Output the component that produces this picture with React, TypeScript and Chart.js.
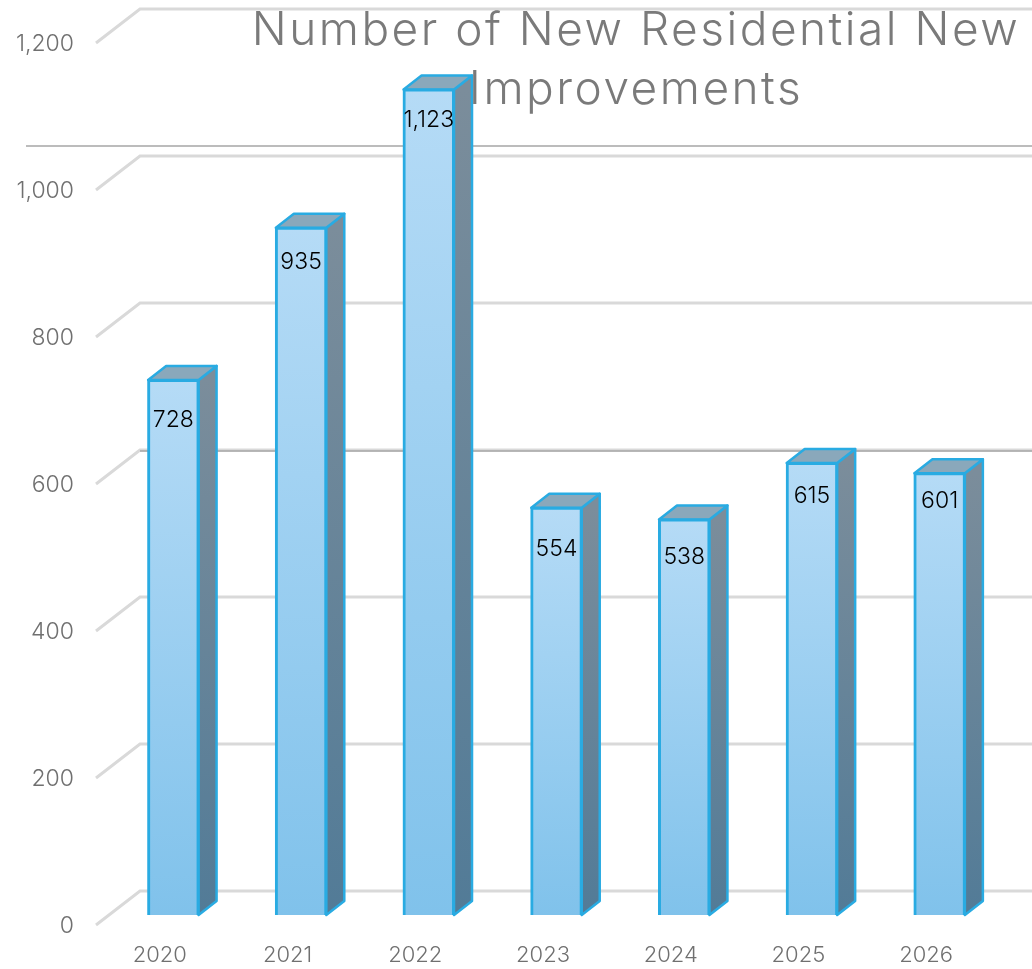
import React, { useEffect, useRef } from "react";
import { Chart, registerables } from "chart.js";

Chart.register(...registerables);

const years = ["2020", "2021", "2022", "2023", "2024", "2025", "2026"];
const newImprovements = [728, 935, 1123, 554, 538, 615, 601];
const titleLines = ["Number of New Residential New", "Improvements"];
const referenceLines = [1060, 645];
const labelDrop = [40, 34, 30, 41, 38, 33, 28];

const FONT = "Inter, Lato, sans-serif";
const DX = 13.5;
const DY = -10;
const DEPTH_X = 18;
const DEPTH_Y = -14;

const threeD = {
  id: "threeD",
  beforeDraw(chart: any) {
    const { ctx, scales, width } = chart;
    const y = scales.y;
    ctx.save();
    ctx.strokeStyle = "#D9D9D9";
    ctx.lineWidth = 3;
    y.ticks.forEach((t: any) => {
      const py = y.getPixelForValue(t.value);
      ctx.beginPath();
      ctx.moveTo(chart.chartArea.left, py);
      ctx.lineTo(chart.chartArea.left + 44, py - 34);
      ctx.lineTo(width, py - 34);
      ctx.stroke();
    });
    ctx.strokeStyle = "#A6A6A6";
    ctx.lineWidth = 1.5;
    referenceLines.forEach((v, i) => {
      const py = y.getPixelForValue(v);
      ctx.beginPath();
      ctx.moveTo(i === 0 ? 26 : chart.chartArea.left + 44, py);
      ctx.lineTo(width, py);
      ctx.stroke();
    });
    ctx.restore();
  },
  beforeLayout(chart: any) {
    const tb = chart.titleBlock;
    if (tb && !tb.__wrapped) {
      tb.__wrapped = true;
      tb._layers = () => [
        {
          z: 1,
          draw() {
            const c = chart.ctx;
            c.save();
            c.letterSpacing = "2.5px";
            tb.draw();
            c.restore();
          },
        },
      ];
    }
  },
  afterLayout(chart: any) {
    const tb = chart.titleBlock;
    tb.left = 0;
    tb.right = 1272;
    tb.top = 2;
  },
  beforeDatasetDraw(chart: any, args: any) {
    const { ctx } = chart;
    const meta = chart.getDatasetMeta(args.index);
    ctx.save();
    ctx.translate(DX, DY);
    meta.data.forEach((el: any) => {
      const p = el.getProps(["x", "y", "base", "width"], true);
      const l = p.x - p.width / 2;
      const r = p.x + p.width / 2;
      const side = ctx.createLinearGradient(0, p.y, 0, p.base);
      side.addColorStop(0, "#7B8D9B");
      side.addColorStop(1, "#527B97");
      ctx.lineWidth = 2.5;
      ctx.strokeStyle = "#29ABE2";
      ctx.lineJoin = "round";
      ctx.fillStyle = side;
      ctx.beginPath();
      ctx.moveTo(r, p.y);
      ctx.lineTo(r + DEPTH_X, p.y + DEPTH_Y);
      ctx.lineTo(r + DEPTH_X, p.base + DEPTH_Y);
      ctx.lineTo(r, p.base);
      ctx.closePath();
      ctx.fill();
      ctx.stroke();
      ctx.fillStyle = "#8AA8BB";
      ctx.beginPath();
      ctx.moveTo(l, p.y);
      ctx.lineTo(l + DEPTH_X, p.y + DEPTH_Y);
      ctx.lineTo(r + DEPTH_X, p.y + DEPTH_Y);
      ctx.lineTo(r, p.y);
      ctx.closePath();
      ctx.fill();
      ctx.stroke();
    });
  },
  afterDatasetDraw(chart: any) {
    chart.ctx.restore();
  },
  afterDatasetsDraw(chart: any) {
    const { ctx } = chart;
    const meta = chart.getDatasetMeta(0);
    ctx.save();
    ctx.fillStyle = "#000000";
    ctx.font = `300 23px ${FONT}`;
    ctx.textAlign = "center";
    ctx.textBaseline = "middle";
    meta.data.forEach((el: any, i: number) => {
      const p = el.getProps(["x", "y"], true);
      ctx.fillText(newImprovements[i].toLocaleString("en-US"), p.x + DX, p.y + DY + labelDrop[i]);
    });
    ctx.restore();
  },
};

export default function App() {
  const ref = useRef<HTMLCanvasElement>(null);
  useEffect(() => {
    document.body.style.margin = "0";
    document.body.style.background = "#ffffff";
    const titleSize = 46;
    const titleLineHeight = 59;
    const titleHeight = titleLines.length * titleLineHeight + 4;
    const chart = new Chart(ref.current!, {
      type: "bar",
      data: {
        labels: years,
        datasets: [
          {
            label: "New Residential New Improvements",
            data: newImprovements,
            barPercentage: 0.395,
            categoryPercentage: 1,
            borderWidth: 3,
            inflateAmount: 1,
            borderColor: "#29ABE2",
            backgroundColor: (c: any) => {
              const y = c.chart.scales?.y;
              const fallback = "#A0D0F0";
              if (!y || typeof c.raw !== "number") return fallback;
              const top = y.getPixelForValue(c.raw);
              const bottom = y.getPixelForValue(0);
              if (!Number.isFinite(top) || !Number.isFinite(bottom)) return fallback;
              const g = c.chart.ctx.createLinearGradient(0, top, 0, bottom);
              g.addColorStop(0, "#B5DBF6");
              g.addColorStop(1, "#80C2EB");
              return g;
            },
          },
        ],
      },
      options: {
        responsive: false,
        animation: false,
        layout: {
          autoPadding: false,
          padding: { top: 43 - titleHeight, left: 0, right: 42, bottom: 0 },
        },
        plugins: {
          legend: { display: false },
          tooltip: { enabled: false },
          title: {
            display: true,
            text: titleLines,
            color: "#7A7A7A",
            padding: { top: 0, bottom: 4 },
            font: { family: FONT, size: titleSize, weight: 300, lineHeight: titleLineHeight / titleSize },
          },
        },
        scales: {
          x: {
            grid: { display: false },
            border: { display: false },
            afterFit: (s: any) => {
              s.height = 44;
            },
            ticks: {
              color: "#707070",
              font: { family: FONT, size: 22, weight: 300 },
              padding: 9,
              maxRotation: 0,
            },
          },
          y: {
            min: 0,
            max: 1200,
            grid: { display: false },
            border: { display: false },
            afterFit: (s: any) => {
              s.width = 96;
            },
            ticks: {
              stepSize: 200,
              color: "#707070",
              font: { family: FONT, size: 23, weight: 300 },
              padding: 14,
              labelOffset: 1.5,
            },
          },
        },
      },
      plugins: [threeD],
    } as any);
    return () => chart.destroy();
  }, []);
  return (
    <div style={{ width: 1032, height: 969, overflow: "hidden" }}>
      <canvas ref={ref} width={1032} height={969} style={{ display: "block" }} />
    </div>
  );
}
